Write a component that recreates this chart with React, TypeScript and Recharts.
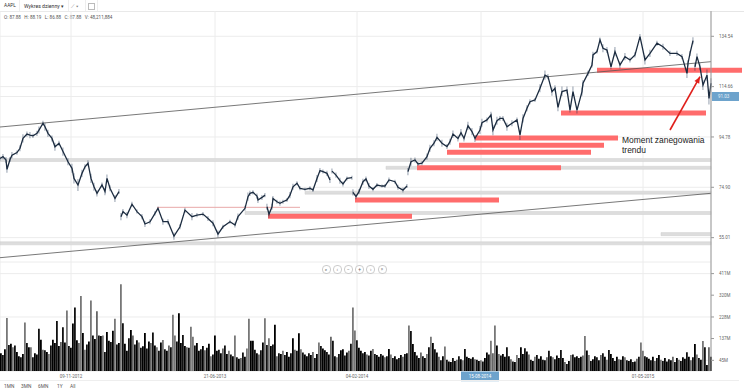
import {
  Bar,
  CartesianGrid,
  Cell,
  ComposedChart,
  Line,
  ReferenceArea,
  ReferenceLine,
  XAxis,
  YAxis,
} from "recharts";

// pane is one unit per day slot, 711 slots wide
const priceDays = [
  0, 3, 6, 7, 10, 12, 17, 20, 23, 27, 30, 33, 37, 39, 43, 45, 48, 52, 55, 59, 63, 68, 72, 74, 78, 82, 85, 88, 91, 94, 97,
  102, 105, 107, 110, 115, 119, 120, 121, 123, 127, 132, 137, 142, 145, 150, 155, 158, 163, 168, 174, 180, 185, 192, 197,
  203, 208, 213, 218, 223, 230, 235, 238, 245, 248, 250, 253, 257, 258, 262, 265, 266, 267, 269, 272, 273, 277, 280, 283,
  287, 290, 293, 297, 300, 305, 310, 313, 317, 320, 323, 327, 330, 331, 332, 336, 340, 343, 347, 352, 352.5, 353, 356,
  359, 363, 366, 369, 373, 377, 382, 385, 389, 395, 398, 403, 407, 407.5, 408, 411, 415, 418, 422, 427, 430, 434, 437,
  442, 447, 450, 453, 458, 461, 464, 468, 472, 475, 480, 482, 487, 491, 493, 497, 500, 503, 507, 512, 517, 520, 523, 527,
  530, 535, 540, 545, 548, 552, 555, 558, 562, 567, 570, 573, 577, 582, 583, 588, 592, 593, 597, 600, 603, 607, 611, 615,
  620, 625, 630, 635, 640, 645, 650, 657, 663, 670, 677, 682, 687, 688, 690, 693, 694, 695, 697, 700, 703, 707, 709, 711,
];

const closes = [
  86.3, 87.0, 85.7, 82.0, 85.9, 87.6, 88.6, 90.3, 94.2, 95.9, 95.5, 95.2, 96.2, 97.5, 100.2, 98.8, 96.2, 94.2, 90.9, 92.3,
  89.0, 85.0, 82.4, 78.4, 75.8, 80.4, 83.0, 84.4, 78.4, 75.1, 72.5, 75.8, 73.2, 78.4, 74.5, 70.5, 73.2, null, 63.3, 65.3,
  63.9, 68.2, 65.3, 63.3, 60.4, 61.3, 64.6, 66.6, 61.3, 61.3, 55.6, 59.3, 65.9, 63.3, 63.9, 64.3, 62.6, 60.7, 56.4, 59.3,
  61.3, 60.0, 63.3, 66.6, 71.2, 72.5, 72.9, 71.4, 69.9, 70.9, 71.8, null, 67.2, 64.3, 67.2, 70.5, 69.2, 68.6, 69.2, 69.9,
  71.8, 75.1, 76.5, 74.5, 74.1, 74.5, 73.8, 78.4, 81.5, 81.1, 80.4, 77.8, null, 81.3, 79.7, 77.5, 76.2, 78.4, 78.7, null,
  72.9, 71.2, 73.2, 77.1, 78.2, 75.4, 74.1, 75.8, 75.4, 75.4, 77.8, 77.1, 74.9, 73.8, 75.4, null, 81.1, 85.0, 85.7, 84.1,
  84.4, 87.0, 90.3, 92.3, 94.6, 92.3, 91.0, 92.9, 95.9, 94.2, 96.5, 94.2, 99.2, 96.9, 94.2, 97.5, 100.4, 101.5, 103.5,
  97.5, 101.2, 102.1, 102.1, 98.8, 100.2, 101.5, 95.6, 102.1, 106.1, 108.7, 109.4, 114.0, 119.2, 118.6, 112.7, 114.0,
  106.5, 112.7, 113.3, 105.4, 112.7, 105.4, 112.7, 116.0, 119.9, 123.2, 127.2, 128.5, 133.1, 129.8, 129.1, 122.5, 128.5,
  123.2, 126.5, 125.2, 127.2, 134.4, 125.2, 127.8, 131.8, 130.4, 127.8, 127.8, 126.5, 119.9, 123.9, 127.8, 132.8, null,
  122.5, 126.5, 122.5, 115.3, 119.2, 110.0, 116.0,
];

// half of each session's high-low span, as it looks on the picture
const spans = [
  0.8, 1.0, 1.2, 1.4, 1.0, 1.2, 0.8, 1.2, 1.6, 1.0, 1.2, 0.8, 1.0, 1.4, 1.0, 1.6, 1.4, 1.2, 1.6, 1.0, 1.6, 1.4, 1.8, 2.0,
  2.4, 1.4, 1.0, 1.2, 1.8, 1.6, 1.2, 1.0, 1.4, 1.6, 1.2, 1.4, 1.0, 0, 1.4, 1.0, 1.2, 1.0, 0.8, 1.0, 1.2, 1.0, 0.8, 0.6, 1.2,
  1.0, 1.4, 1.0, 1.2, 1.4, 0.8, 0.8, 1.0, 1.2, 1.4, 0.8, 0.8, 1.0, 1.2, 1.0, 1.6, 1.0, 0.8, 1.0, 1.2, 1.0, 0.8, 0, 1.2, 1.4,
  1.2, 1.0, 0.8, 1.0, 0.8, 0.8, 1.2, 1.2, 0.8, 0.8, 0.6, 0.8, 0.8, 1.4, 1.0, 0.8, 1.0, 1.2, 0, 1.0, 1.0, 1.2, 1.0, 0.8, 0.8,
  0, 1.2, 1.0, 1.0, 1.2, 1.0, 1.2, 0.8, 0.8, 0.6, 0.8, 1.0, 0.8, 1.0, 1.0, 0.8, 0, 1.4, 1.6, 1.0, 0.8, 0.8, 1.2, 1.4, 1.2,
  1.4, 1.4, 1.0, 1.2, 1.4, 1.2, 1.4, 1.2, 1.6, 1.4, 1.4, 1.6, 1.6, 1.0, 1.2, 2.0, 1.6, 1.0, 1.0, 1.6, 1.2, 1.0, 2.0, 1.6, 1.2,
  1.0, 0.8, 1.6, 1.8, 1.0, 1.6, 1.2, 1.6, 2.0, 1.4, 1.0, 2.0, 1.4, 1.6, 1.2, 1.0, 1.0, 1.2, 0.8, 1.0, 1.6, 1.2, 1.0, 1.8, 1.4,
  1.4, 1.0, 1.0, 1.0, 1.8, 1.4, 1.0, 1.2, 1.0, 1.0, 1.0, 1.8, 1.2, 1.0, 1.4, 0, 1.6, 1.2, 1.4, 2.0, 2.2, 2.4, 2.0,
];

const volumes = [
  75, 68, 92, 224, 110, 115, 100, 108, 80, 62, 58, 72, 205, 118, 100, 100, 58, 75, 70, 178, 132, 90, 88, 80, 72, 108, 132,
  118, 211, 105, 122, 185, 120, 255, 105, 98, 200, 268, 130, 118, 317, 160, 90, 112, 125, 297, 150, 135, 252, 150, 148,
  150, 80, 165, 128, 122, 170, 220, 112, 118, 366, 201, 115, 85, 138, 173, 150, 112, 130, 120, 98, 104, 160, 95, 125, 118,
  163, 108, 100, 85, 120, 131, 92, 85, 108, 100, 237, 150, 125, 244, 118, 152, 105, 100, 98, 187, 145, 108, 118, 85, 92,
  105, 88, 98, 115, 62, 70, 150, 85, 90, 75, 95, 108, 72, 85, 70, 62, 150, 58, 52, 55, 78, 60, 95, 220, 128, 128, 90, 75,
  70, 88, 120, 223, 110, 138, 105, 112, 195, 62, 75, 72, 85, 68, 80, 60, 75, 138, 90, 85, 159, 92, 78, 70, 62, 75, 68, 80,
  55, 72, 120, 105, 95, 88, 80, 70, 145, 128, 62, 58, 72, 88, 92, 65, 78, 85, 115, 268, 171, 130, 98, 85, 75, 80, 70, 65,
  85, 93, 72, 68, 60, 72, 65, 58, 62, 93, 70, 55, 62, 50, 55, 68, 60, 72, 75, 192, 169, 114, 80, 65, 55, 78, 62, 55, 72,
  100, 145, 118, 92, 78, 60, 45, 62, 103, 48, 40, 38, 55, 42, 48, 62, 50, 45, 93, 60, 55, 52, 58, 50, 48, 42, 45, 40, 55,
  78, 70, 128, 75, 192, 108, 72, 65, 72, 60, 100, 62, 50, 40, 38, 68, 55, 100, 72, 96, 82, 70, 48, 42, 60, 68, 52, 62, 48,
  45, 58, 85, 62, 58, 50, 65, 55, 89, 55, 38, 30, 42, 68, 70, 58, 62, 55, 60, 65, 148, 86, 68, 42, 50, 62, 58, 45, 68, 75,
  60, 48, 89, 72, 55, 42, 60, 50, 48, 62, 58, 45, 42, 50, 38, 40, 52, 60, 120, 85, 62, 58, 52, 45, 60, 42, 55, 68, 48, 42,
  55, 40, 50, 45, 60, 38, 55, 48, 42, 58, 52, 79, 60, 45, 58, 114, 70, 55, 48, 127, 100, 25, 100, 60,
];

const grayVolumes = [3, 12, 33, 40, 45, 57, 81, 86, 95, 117, 124, 132, 134, 176, 204, 215, 245, 247, 292, 320, 351];
const shadePattern = ["#000", "#111", "#000", "#666", "#111", "#000", "#777", "#111", "#000"];

const priceTicks = [134.54, 114.66, 94.78, 74.9, 55.01];
const volumeTicks = [45, 137, 228, 320, 411];
const gridDays = [71, 215, 357, 481, 643];
const dateLabels: Record<number, string> = {
  71: "09-11-2012",
  215: "21-06-2013",
  357: "04-02-2014",
  481: "15-08-2014",
  643: "01-05-2015",
};

const redZones = [
  { from: 268, to: 412, level: 63.44 },
  { from: 355, to: 499, level: 69.88 },
  { from: 417, to: 561, level: 82.63 },
  { from: 447, to: 591, level: 88.72 },
  { from: 459, to: 604, level: 91.5 },
  { from: 475, to: 618, level: 94.37 },
  { from: 561, to: 706, level: 104.24 },
  { from: 597, to: 742, level: 121.11 },
];

const grayZones = [
  { from: 0, to: 711, level: 85.68 },
  { from: 386, to: 711, level: 82.6 },
  { from: 305, to: 711, level: 72.76 },
  { from: 245, to: 711, level: 64.74 },
  { from: 661, to: 711, level: 56.4 },
  { from: 0, to: 711, level: 52.78 },
];

const priceRows = priceDays.map((day, i) => {
  const close = closes[i];
  const span = spans[i] ?? 1;
  return { day, close, wick: close === null || close === undefined ? null : [close - span, close + span] };
});
const volumeRows = volumes.map((volume, i) => ({ day: i * 2 + 1, volume }));

const labelFont = "Roboto, sans-serif";

const Arrow = (props: any) => {
  const { x1, y1, x2, y2 } = props;
  if (x1 === undefined) return null;
  const a = Math.atan2(y2 - y1, x2 - x1);
  const len = 7;
  return (
    <g>
      <line x1={x1} y1={y1} x2={x2} y2={y2} stroke="#e0201c" strokeWidth={1.6} />
      <polygon
        fill="#e0201c"
        points={`${x2},${y2} ${x2 - len * Math.cos(a - 0.4)},${y2 - len * Math.sin(a - 0.4)} ${
          x2 - len * Math.cos(a + 0.4)
        },${y2 - len * Math.sin(a + 0.4)}`}
      />
    </g>
  );
};

const DateTick = ({ x, y, payload }: any) => {
  const badge = payload.value === 481;
  return (
    <g>
      {badge && <rect x={x - 20} y={y - 7.5} width={38} height={9.7} fill="#6da3cc" />}
      <text x={badge ? x - 1 : x} y={y - 1.5} textAnchor="middle" fontSize={4.5} fontFamily={labelFont} fill={badge ? "#fff" : "#666"}>
        {dateLabels[payload.value]}
      </text>
    </g>
  );
};

const navGlyphs = ["«", "‹", "−", "+", "›", "»"];
const rangeLabels = ["1MN", "3MN", "6MN", "1Y", "All"];

export default function App() {
  return (
    <div style={{ position: "fixed", left: 0, top: 0, width: 744, height: 392, background: "#fff", overflow: "hidden" }}>
      {/* header */}
      <div style={{ position: "absolute", left: 0, top: 11, width: 744, height: 1, background: "#e6e6e6" }} />
      {[19, 68, 85, 97].map((x) => (
        <div key={x} style={{ position: "absolute", left: x, top: 0, width: 1, height: 11, background: "#eee" }} />
      ))}
      <div style={{ position: "absolute", left: 4, top: 3, font: `4.8px ${labelFont}`, color: "#333" }}>AAPL</div>
      <div style={{ position: "absolute", left: 24, top: 3, font: `5.2px ${labelFont}`, color: "#333" }}>Wykres dzienny ▾</div>
      <div style={{ position: "absolute", left: 71, top: 3, font: `5px ${labelFont}`, color: "#777" }}>⟋ ▾</div>
      <div style={{ position: "absolute", left: 88, top: 3, width: 5, height: 5, border: "1px solid #bbb" }} />
      <div style={{ position: "absolute", left: 4, top: 15, font: `4.6px ${labelFont}`, color: "#555", whiteSpace: "pre" }}>
        {"O: 87.88   H: 88.19   L: 86.88   C: 87.88   V: 48,211,884"}
      </div>

      {/* price pane */}
      <div style={{ position: "absolute", left: 0, top: 11 }}>
        <ComposedChart width={744} height={251} data={priceRows} margin={{ top: 0, right: 0, bottom: 0, left: 0 }}>
          <CartesianGrid stroke="#ececec" />
          <XAxis dataKey="day" type="number" domain={[0, 711]} ticks={gridDays} hide />
          <YAxis
            orientation="right"
            width={33}
            domain={[45.39, 144.53]}
            ticks={priceTicks}
            stroke="#999"
            tickSize={3}
            tickMargin={5}
            tick={{ fontSize: 4.5, fontFamily: labelFont, fill: "#666" }}
            tickFormatter={(v: number) => v.toFixed(2)}
          />
          <ReferenceLine y={110.76} stroke="#ececec" />
          {grayZones.map((z, i) => (
            <ReferenceArea key={i} x1={z.from} x2={z.to} y1={z.level - 0.6} y2={z.level + 0.6} fill="#dddddd" fillOpacity={1} stroke="#cfcfcf" strokeWidth={0.5} />
          ))}
          <ReferenceLine segment={[{ x: 157, y: 66.99 }, { x: 300, y: 66.99 }]} stroke="#e8a8a8" />
          <ReferenceLine segment={[{ x: 0, y: 98.71 }, { x: 711, y: 124.51 }]} stroke="#555" strokeWidth={0.8} />
          <ReferenceLine segment={[{ x: 0, y: 47.09 }, { x: 711, y: 72.53 }]} stroke="#555" strokeWidth={0.8} />
          <Bar dataKey="wick" barSize={2} fill="#12294a" isAnimationActive={false} />
          <Line dataKey="close" stroke="#1c2c40" strokeWidth={1.3} dot={false} isAnimationActive={false} connectNulls={false} />
          {redZones.map((z, i) => (
            <ReferenceArea key={i} x1={z.from} x2={z.to} y1={z.level - 1} y2={z.level + 1} fill="#ff5f5f" fillOpacity={0.92} ifOverflow="visible" />
          ))}
          <ReferenceLine segment={[{ x: 670, y: 97.53 }, { x: 700, y: 118.58 }]} shape={Arrow} />
        </ComposedChart>
      </div>

      {/* volume pane */}
      <div style={{ position: "absolute", left: 0, top: 262 }}>
        <ComposedChart width={744} height={130} data={volumeRows} margin={{ top: 0, right: 0, bottom: 0, left: 0 }}>
          <CartesianGrid stroke="#ececec" />
          <XAxis
            dataKey="day"
            type="number"
            domain={[0, 711]}
            ticks={gridDays}
            height={21}
            axisLine={false}
            tickLine={false}
            tick={<DateTick />}
            interval={0}
          />
          <YAxis
            orientation="right"
            width={33}
            domain={[0, 460]}
            ticks={volumeTicks}
            stroke="#999"
            tickSize={3}
            tickMargin={5}
            tick={{ fontSize: 4.5, fontFamily: labelFont, fill: "#666" }}
            tickFormatter={(v: number) => `${v}M`}
          />
          <Bar dataKey="volume" barSize={2} isAnimationActive={false}>
            {volumeRows.map((_, i) => (
              <Cell key={i} fill={grayVolumes.includes(i) ? "#777" : shadePattern[i % shadePattern.length]} />
            ))}
          </Bar>
        </ComposedChart>
      </div>

      {/* last price badge */}
      <div style={{ position: "absolute", left: 712, top: 92, width: 27, height: 9, background: "#6da3cc", color: "#e8f0f6", font: `4.5px ${labelFont}`, lineHeight: "9px", paddingLeft: 6, boxSizing: "border-box" }}>
        91.03
      </div>

      {/* annotation */}
      <div style={{ position: "absolute", left: 622, top: 135, font: "8.45px/10px 'Liberation Sans', sans-serif", color: "#222" }}>
        Moment zanegowania
        <br />
        trendu
      </div>

      {/* pan and zoom controls */}
      {navGlyphs.map((g, i) => (
        <div key={i} style={{ position: "absolute", left: 321.5 + i * 11.2, top: 265, width: 7, height: 7, borderRadius: 4, border: "1px solid #ccc", background: "#fff", font: `5px/7px ${labelFont}`, textAlign: "center", color: "#666" }}>
          {g}
        </div>
      ))}

      {/* range buttons */}
      <div style={{ position: "absolute", left: 0, top: 380, width: 739, height: 1, background: "#eee" }} />
      {rangeLabels.map((r, i) => (
        <div key={r} style={{ position: "absolute", left: [4, 21, 38, 57, 70][i], top: 384, font: `4.8px ${labelFont}`, color: "#555" }}>
          {r}
        </div>
      ))}
    </div>
  );
}
